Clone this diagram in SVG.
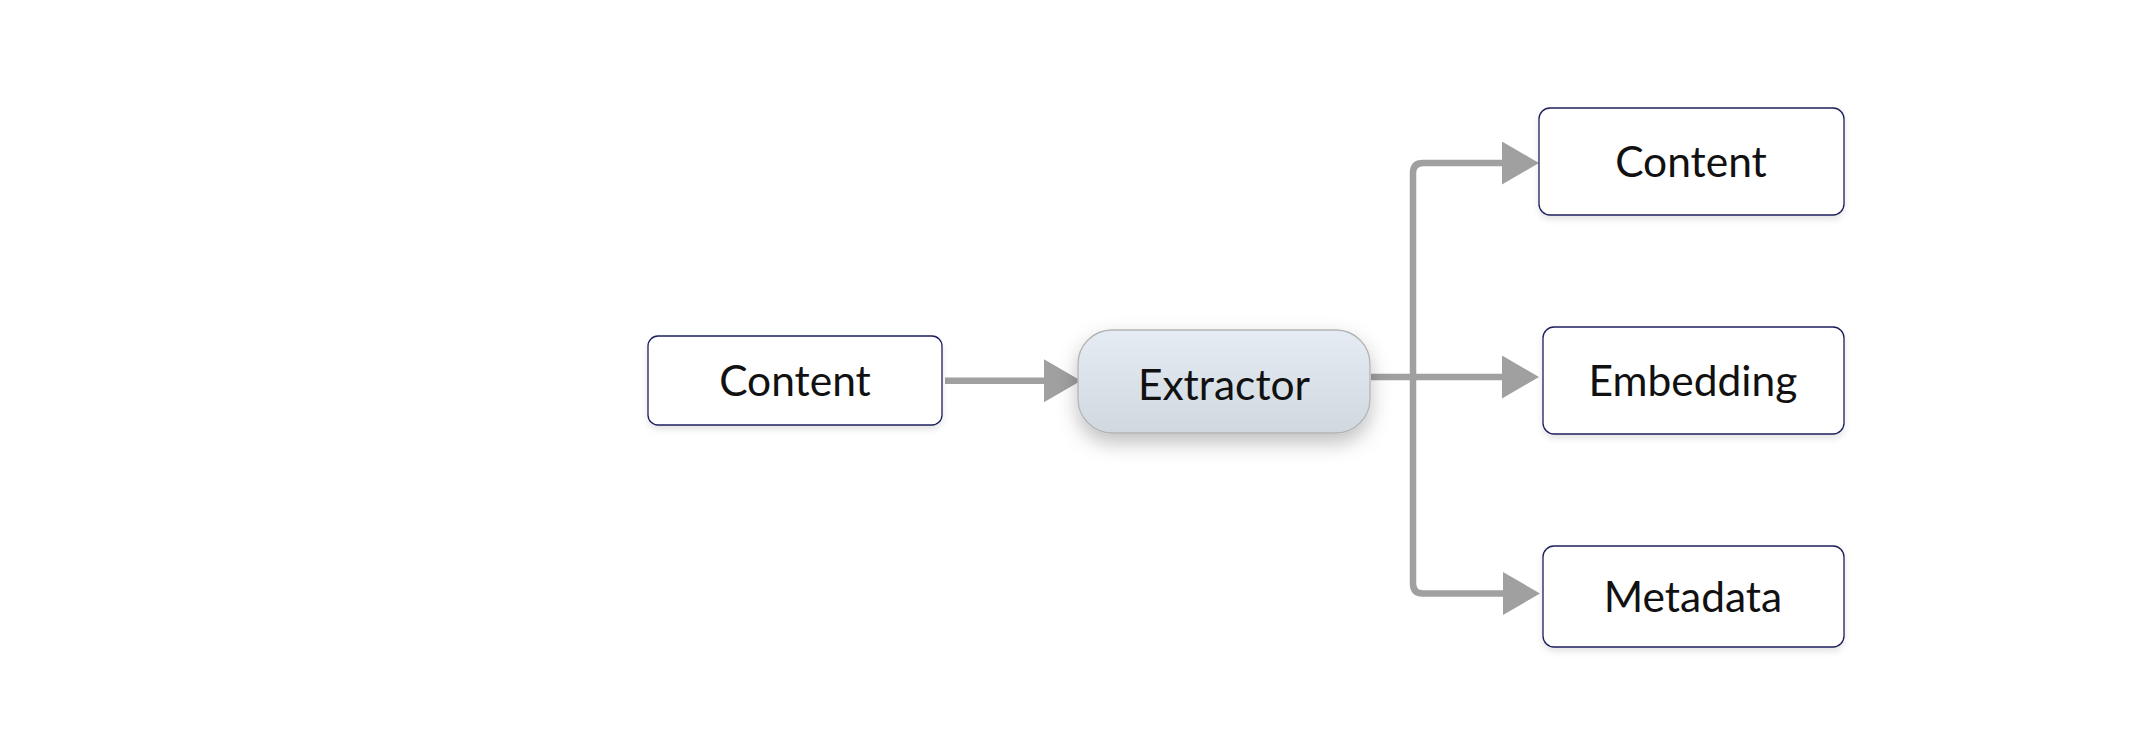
<svg xmlns="http://www.w3.org/2000/svg" width="2151" height="738" viewBox="0 0 2151 738">
  <defs>
    <style>
      .box { fill: #ffffff; stroke: #1c1f5c; stroke-width: 1.3; filter: url(#boxShadow); }
      .ext { fill: url(#extGrad); stroke: #b3b3b3; stroke-width: 1.3; filter: url(#extShadow); }
      .label { font-family: "Lato", "Liberation Sans", sans-serif; font-size: 42.5px; fill: #111111; text-anchor: middle; }
      .conn { fill: none; stroke: #a0a0a0; stroke-width: 6.5; stroke-linejoin: round; }
    </style>
    <linearGradient id="extGrad" x1="0" y1="0" x2="0" y2="1">
      <stop offset="0" stop-color="#e5ecf3"/>
      <stop offset="1" stop-color="#d0d8e0"/>
    </linearGradient>
    <filter id="boxShadow" x="-10%" y="-20%" width="120%" height="150%">
      <feDropShadow dx="0" dy="4" stdDeviation="3" flood-color="#000000" flood-opacity="0.10"/>
    </filter>
    <filter id="extShadow" x="-20%" y="-30%" width="140%" height="170%">
      <feDropShadow dx="0" dy="9" stdDeviation="10" flood-color="#000000" flood-opacity="0.25"/>
    </filter>
    <marker id="arrow" markerUnits="userSpaceOnUse" markerWidth="38" markerHeight="43" refX="1" refY="21.5" orient="auto">
      <path d="M0,0 L37,21.5 L0,43 Z" fill="#a0a0a0"/>
    </marker>
  </defs>
  <rect width="2151" height="738" fill="#ffffff"/>

  <g id="connectors">
    <path class="conn" d="M945 380.7 H1045" marker-end="url(#arrow)"/>
    <path class="conn" d="M1371 377 H1503" marker-end="url(#arrow)"/>
    <path class="conn" d="M1413 377 V173 Q1413 163 1423 163 H1503" marker-end="url(#arrow)"/>
    <path class="conn" d="M1413 377 V583.5 Q1413 593.5 1423 593.5 H1504" marker-end="url(#arrow)"/>
  </g>

  <g id="node-content-in">
    <rect class="box" x="648" y="336" width="294" height="89" rx="10"/>
    <text class="label" x="795" y="396">Content</text>
  </g>

  <g id="node-extractor">
    <rect class="ext" x="1078" y="330" width="292" height="103" rx="34"/>
    <text class="label" x="1224" y="400">Extractor</text>
  </g>

  <g id="node-content-out">
    <rect class="box" x="1539" y="108" width="305" height="107" rx="11"/>
    <text class="label" x="1691" y="177">Content</text>
  </g>

  <g id="node-embedding">
    <rect class="box" x="1543" y="327" width="301" height="107" rx="11"/>
    <text class="label" x="1693" y="396">Embedding</text>
  </g>

  <g id="node-metadata">
    <rect class="box" x="1543" y="546" width="301" height="101" rx="11"/>
    <text class="label" x="1693" y="612">Metadata</text>
  </g>
</svg>
